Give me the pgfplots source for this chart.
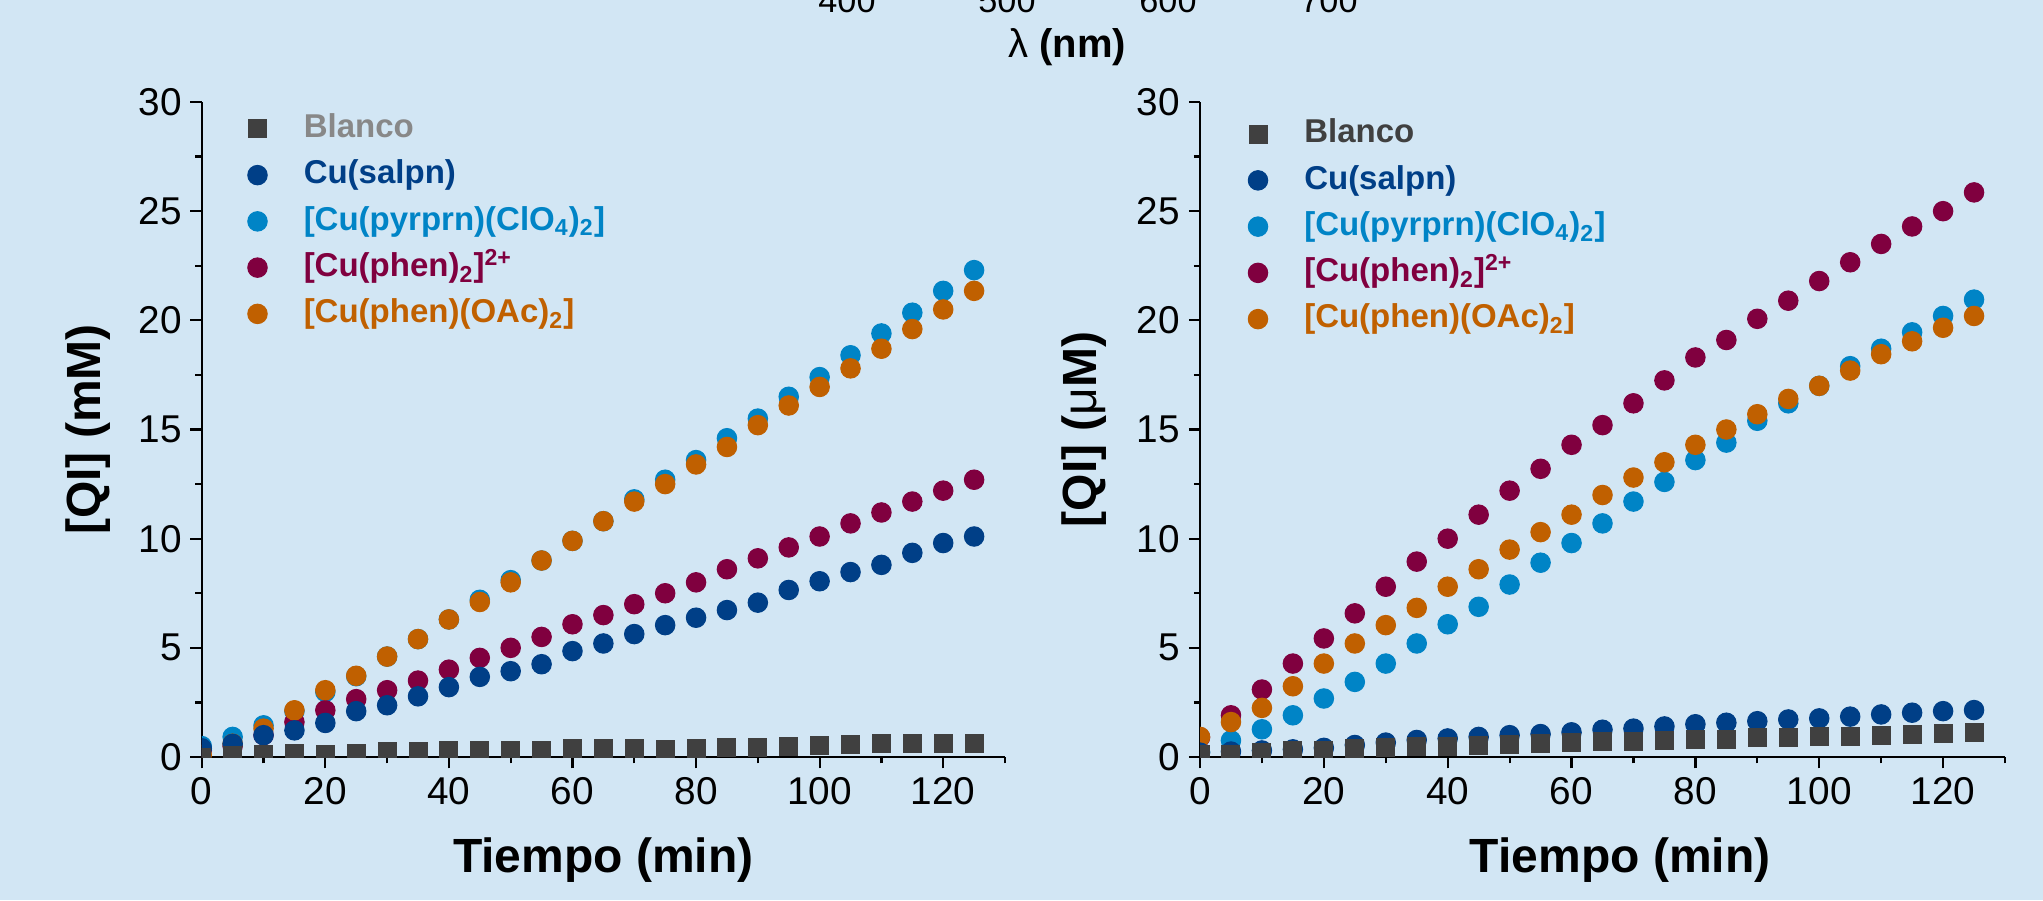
\documentclass[border=0pt]{standalone}
\usepackage{pgfplots}
\pgfplotsset{compat=1.18}
\usepackage{fontspec}
\setmainfont{Liberation Sans}

\definecolor{bg}{RGB}{210,230,244}
\definecolor{cblanco}{RGB}{64,64,64}
\definecolor{cblancotext}{RGB}{136,136,136}
\definecolor{csalpn}{RGB}{0,63,135}
\definecolor{cpyr}{RGB}{0,132,198}
\definecolor{cphen}{RGB}{128,0,63}
\definecolor{coac}{RGB}{192,96,0}

\pgfplotstableread{
x blanco salpn pyr phen oac
0 0.00 0.40 0.50 0.30 0.10
5 0.05 0.60 0.92 0.50 0.61
10 0.12 1.00 1.45 1.00 1.30
15 0.15 1.22 2.10 1.60 2.14
20 0.10 1.56 2.98 2.14 3.06
25 0.17 2.10 3.70 2.65 3.72
30 0.23 2.37 4.60 3.06 4.60
35 0.24 2.78 5.40 3.50 5.40
40 0.29 3.20 6.30 4.00 6.30
45 0.29 3.67 7.20 4.54 7.10
50 0.29 3.93 8.10 5.00 8.00
55 0.30 4.25 9.00 5.50 9.00
60 0.37 4.85 9.90 6.08 9.90
65 0.37 5.20 10.80 6.50 10.80
70 0.41 5.63 11.80 7.00 11.70
75 0.33 6.04 12.70 7.50 12.50
80 0.40 6.38 13.60 8.00 13.40
85 0.44 6.73 14.60 8.60 14.20
90 0.44 7.07 15.50 9.10 15.20
95 0.49 7.65 16.50 9.60 16.10
100 0.52 8.05 17.40 10.10 16.95
105 0.58 8.47 18.40 10.70 17.80
110 0.60 8.80 19.40 11.20 18.70
115 0.60 9.35 20.35 11.70 19.60
120 0.60 9.80 21.35 12.20 20.50
125 0.60 10.10 22.30 12.70 21.35
}\left

\pgfplotstableread{
x blanco salpn pyr phen oac
0 0.10 0.20 0.23 0.90 0.92
5 0.10 0.25 0.76 1.91 1.60
10 0.20 0.30 1.27 3.09 2.25
15 0.28 0.35 1.91 4.28 3.24
20 0.32 0.42 2.68 5.43 4.28
25 0.38 0.55 3.44 6.58 5.20
30 0.43 0.66 4.28 7.80 6.04
35 0.46 0.78 5.20 8.95 6.83
40 0.50 0.85 6.08 10.00 7.80
45 0.53 0.92 6.88 11.10 8.60
50 0.58 1.00 7.90 12.20 9.50
55 0.60 1.05 8.90 13.20 10.30
60 0.66 1.13 9.80 14.30 11.10
65 0.69 1.25 10.70 15.20 12.00
70 0.70 1.30 11.70 16.20 12.80
75 0.75 1.40 12.60 17.25 13.50
80 0.80 1.50 13.60 18.30 14.30
85 0.81 1.57 14.40 19.10 15.00
90 0.89 1.64 15.40 20.07 15.70
95 0.90 1.72 16.20 20.90 16.40
100 0.93 1.77 17.00 21.80 17.00
105 0.96 1.85 17.90 22.66 17.70
110 1.00 1.95 18.70 23.50 18.45
115 1.05 2.03 19.45 24.30 19.04
120 1.06 2.10 20.20 25.00 19.66
125 1.11 2.15 20.95 25.86 20.20
}\right

\pgfplotsset{
  panel/.style={
    scale only axis, width=321.3pt, height=262pt,
    xmin=0, xmax=130, ymin=0, ymax=30,
    axis lines=left, axis line style={-, line width=0.9pt, black},
    tick style={line width=0.9pt, black},
    major tick length=4.5pt, minor tick length=2.5pt, tick align=outside,
    xtick={0,20,...,120}, minor x tick num=1,
    ytick={0,5,...,30}, minor y tick num=1,
    extra x ticks={130}, extra x tick labels={}, extra x tick style={major tick length=2.5pt},
    ticklabel style={font=\fontsize{15.5}{18}\selectfont},
    /pgf/number format/assume math mode=true,
    label style={font=\fontsize{19.2}{22}\selectfont\bfseries},
    xlabel style={anchor=center},
    clip marker paths=true,
    legend cell align=left,
    legend style={draw=none, fill=none, font=\fontsize{13.2}{15}\selectfont\bfseries,
      row sep=3.5pt, nodes={text height=10pt, text depth=3pt, inner sep=1pt},
      anchor=north west},
  },
  limg/.style={legend image code/.code={\draw[##1] plot coordinates {(0pt,0pt)}; \path[draw=none, fill=none] (-4pt,0pt) -- (17.5pt,0pt);}},
  sq/.style={only marks, mark=square*, mark size=3.6pt, color=cblanco, limg},
  ci/.style={only marks, mark=*, mark size=3.9pt, color=#1, limg},
}

\begin{document}
\begin{tikzpicture}
\fill[bg] (0,0) rectangle (817.2pt,360pt);

\node[anchor=base, font=\fontsize{13.7}{16}\selectfont] at (338.8pt,354.9pt) {400};
\node[anchor=base, font=\fontsize{13.7}{16}\selectfont] at (402.8pt,354.9pt) {500};
\node[anchor=base, font=\fontsize{13.7}{16}\selectfont] at (467.2pt,354.9pt) {600};
\node[anchor=base, font=\fontsize{13.7}{16}\selectfont] at (531.6pt,354.9pt) {700};
\node[font=\fontsize{16}{19}\selectfont\bfseries] at (426.8pt,341pt) {{\mdseries λ} (nm)};

\begin{axis}[panel, at={(80.7pt,57.2pt)}, anchor=south west,
  xlabel={Tiempo (min)}, ylabel={[QI] (mM)},
  xlabel style={at={(axis description cs:0.5,-0.157)}},
  ylabel style={at={(axis description cs:-0.1416,0.5)}, anchor=center},
  legend style={at={(axis description cs:0.047,0.996)}}]
\addlegendimage{sq}
\addlegendentry[text=cblancotext]{Blanco}
\addlegendimage{ci=csalpn}
\addlegendentry[text=csalpn]{Cu(salpn)}
\addlegendimage{ci=cpyr}
\addlegendentry[text=cpyr]{[Cu(pyrprn)(ClO\textsubscript{4})\textsubscript{2}]}
\addlegendimage{ci=cphen}
\addlegendentry[text=cphen]{[Cu(phen)\textsubscript{2}]\textsuperscript{2+}}
\addlegendimage{ci=coac}
\addlegendentry[text=coac]{[Cu(phen)(OAc)\textsubscript{2}]}
\addplot[ci=cpyr, forget plot] table[x=x, y=pyr] {\left};
\addplot[ci=cphen, forget plot] table[x=x, y=phen] {\left};
\addplot[ci=coac, forget plot] table[x=x, y=oac] {\left};
\addplot[ci=csalpn, forget plot] table[x=x, y=salpn] {\left};
\addplot[sq, forget plot] table[x=x, y=blanco] {\left};
\end{axis}

\begin{axis}[panel, at={(480pt,57.2pt)}, anchor=south west, width=322pt,
  xlabel={Tiempo (min)}, ylabel={[QI] ({\mdseries μ}M)},
  xlabel style={at={(axis description cs:0.522,-0.157)}},
  ylabel style={at={(axis description cs:-0.144,0.5)}, anchor=center},
  legend style={at={(axis description cs:0.0497,0.988)}}]
\addlegendimage{sq}
\addlegendentry[text=cblanco]{Blanco}
\addlegendimage{ci=csalpn}
\addlegendentry[text=csalpn]{Cu(salpn)}
\addlegendimage{ci=cpyr}
\addlegendentry[text=cpyr]{[Cu(pyrprn)(ClO\textsubscript{4})\textsubscript{2}]}
\addlegendimage{ci=cphen}
\addlegendentry[text=cphen]{[Cu(phen)\textsubscript{2}]\textsuperscript{2+}}
\addlegendimage{ci=coac}
\addlegendentry[text=coac]{[Cu(phen)(OAc)\textsubscript{2}]}
\addplot[ci=cpyr, forget plot] table[x=x, y=pyr] {\right};
\addplot[ci=cphen, forget plot] table[x=x, y=phen] {\right};
\addplot[ci=coac, forget plot] table[x=x, y=oac] {\right};
\addplot[ci=csalpn, forget plot] table[x=x, y=salpn] {\right};
\addplot[sq, forget plot] table[x=x, y=blanco] {\right};
\end{axis}

\pgfresetboundingbox
\path[use as bounding box] (0,0) rectangle (817.2pt,360pt);
\end{tikzpicture}
\end{document}
